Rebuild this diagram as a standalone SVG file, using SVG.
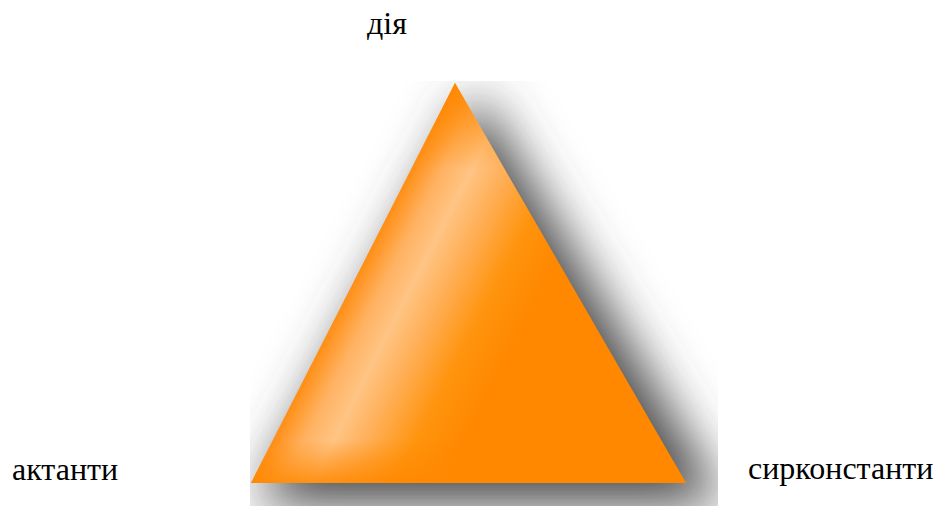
<svg xmlns="http://www.w3.org/2000/svg" width="938" height="506" viewBox="0 0 938 506">
<style>
text{font-family:'Liberation Serif','DejaVu Serif','Times New Roman',serif;font-size:32px;fill:#000}
</style>
<defs>
<clipPath id="imgclip"><rect x="250" y="81" width="468" height="425"/></clipPath>
<filter id="blur" x="-40%" y="-40%" width="180%" height="180%"><feGaussianBlur stdDeviation="26"/></filter>
<linearGradient id="edge" gradientUnits="userSpaceOnUse" x1="353" y1="283" x2="531" y2="374">
<stop offset="0" stop-color="#FF8E14"/>
<stop offset="0.14" stop-color="#FFB262"/>
<stop offset="0.27" stop-color="#FFC484"/>
<stop offset="0.44" stop-color="#FFAD52"/>
<stop offset="0.64" stop-color="#FF940E"/>
<stop offset="0.85" stop-color="#FF8800"/>
</linearGradient>
<linearGradient id="topfade" gradientUnits="userSpaceOnUse" x1="455" y1="83" x2="455" y2="170">
<stop offset="0" stop-color="#FF8800" stop-opacity="0.9"/>
<stop offset="1" stop-color="#FF8800" stop-opacity="0"/>
</linearGradient>
<linearGradient id="botfade" gradientUnits="userSpaceOnUse" x1="0" y1="483" x2="0" y2="440">
<stop offset="0" stop-color="#FF8800" stop-opacity="0.85"/>
<stop offset="1" stop-color="#FF8800" stop-opacity="0"/>
</linearGradient>
</defs>
<g id="triangle">
<g clip-path="url(#imgclip)">
<polygon points="476,92 256,505 726,505" fill="#4a4a4a" filter="url(#blur)"/>
</g>
<polygon points="455,83 251,483 686,483" fill="url(#edge)"/>
<polygon points="455,83 251,483 686,483" fill="url(#topfade)"/>
<polygon points="455,83 251,483 686,483" fill="url(#botfade)"/>
</g>
<g id="label-top"><text x="367" y="34">дія</text></g>
<g id="label-left"><text x="12" y="480">актанти</text></g>
<g id="label-right"><text x="748" y="479">сирконстанти</text></g>
</svg>
